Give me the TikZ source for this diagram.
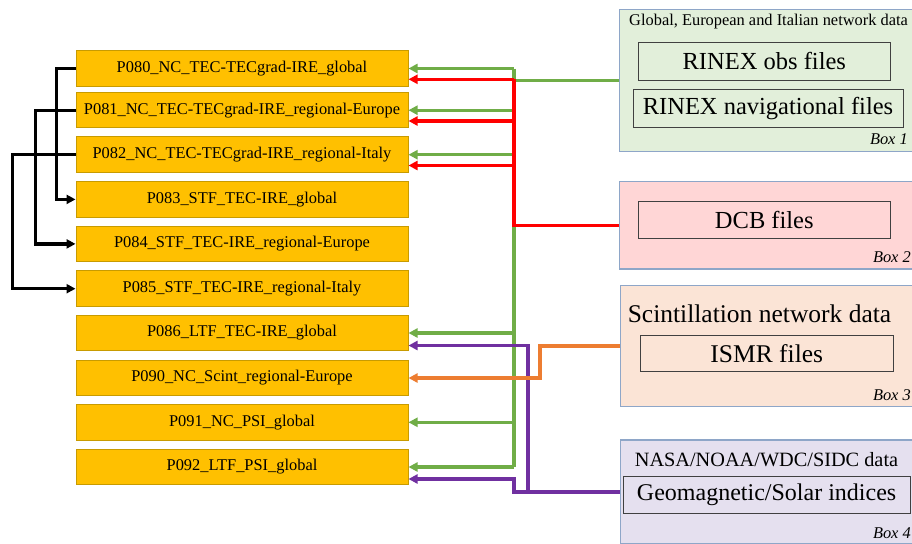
\documentclass[tikz,border=0pt]{standalone}
\usepackage{fontspec}
\setmainfont{Liberation Serif}
\usetikzlibrary{arrows.meta}
\definecolor{pfill}{HTML}{FFC000}
\definecolor{pdraw}{HTML}{C89B00}
\definecolor{bdraw}{HTML}{8EA6C8}
\definecolor{fone}{HTML}{E2EFDA}
\definecolor{ftwo}{HTML}{FFD6D6}
\definecolor{fthree}{HTML}{FBE4D6}
\definecolor{ffour}{HTML}{E5E0EF}
\definecolor{cgreen}{HTML}{70AD47}
\definecolor{cred}{HTML}{FF0000}
\definecolor{cpurple}{HTML}{7030A0}
\definecolor{corange}{HTML}{ED7D31}
\begin{document}
\begin{tikzpicture}[x=1pt,y=-1pt,
  pbox/.style={draw=pdraw,line width=1pt,fill=pfill,minimum width=332pt,minimum height=35.5pt,inner sep=0pt,font=\fontsize{16.4}{18}\selectfont},
  rbox/.style={draw=bdraw,line width=1.4pt,minimum width=330pt,anchor=north west,inner sep=0pt},
  ibox/.style={draw=black!75,line width=0.9pt,inner sep=0pt},
  big/.style={font=\fontsize{24.5}{26}\selectfont},
  small/.style={inner sep=0pt,font=\fontsize{16.4}{18}\selectfont},
  boxlab/.style={inner sep=0pt,anchor=east,font=\fontsize{16.4}{18}\selectfont\itshape},
  conn/.style={line width=3.3pt},
  tip/.style={-{Triangle[length=9pt,width=9pt]}},
  gline/.style={conn,draw=cgreen},
  rline/.style={conn,draw=cred},
  uline/.style={conn,draw=cpurple},
  oline/.style={conn,draw=corange},
  bline/.style={conn,draw=black}]
\useasboundingbox (0,0) rectangle (912,543);
\fill[white] (0,0) rectangle (912,543);
\clip (0,0) rectangle (912,543);

% right-hand source boxes
\node[rbox,fill=fone,minimum height=141.7pt] (b1) at (619,9) {};
\node[small,anchor=west] (t1) at (629,21.7) {Global, European and Italian network data};
\node[ibox,big,minimum width=252.7pt,minimum height=37.3pt] (obs) at (764.3,61.3) {RINEX obs files};
\node[ibox,big,minimum width=270pt,minimum height=38.3pt] (nav) at (768,108.2) {RINEX navigational files};
\node[boxlab] (l1) at (908,139) {Box 1};

\node[rbox,fill=ftwo,minimum height=87.6pt] (b2) at (619,180.7) {};
\node[ibox,big,minimum width=252.7pt,minimum height=37.7pt] (dcb) at (764.3,219.8) {DCB files};
\node[boxlab] (l2) at (911,256.7) {Box 2};

\node[rbox,fill=fthree,minimum height=120.7pt] (b3) at (620,285) {};
\node[inner sep=0pt,font=\fontsize{25.5}{27}\selectfont] (t3) at (759.5,313.3) {Scintillation network data};
\node[ibox,font=\fontsize{25.5}{27}\selectfont,minimum width=252.3pt,minimum height=36.4pt] (ismr) at (766.8,353.5) {ISMR files};
\node[boxlab] (l3) at (911,395) {Box 3};

\node[rbox,fill=ffour,minimum height=104pt] (b4) at (620,439.3) {};
\node[inner sep=0pt,font=\fontsize{20.3}{22}\selectfont] (t4) at (766.5,460) {NASA/NOAA/WDC/SIDC data};
\node[ibox,font=\fontsize{24}{26}\selectfont,minimum width=286.7pt,minimum height=36.6pt] (geo) at (766.6,495) {Geomagnetic/Solar indices};
\node[boxlab] (l4) at (911,533.5) {Box 4};

% product boxes
\node[pbox] (p80) at (242,68.5) {P080\_NC\_TEC-TECgrad-IRE\_global};
\node[pbox] (p81) at (242,110.2) {P081\_NC\_TEC-TECgrad-IRE\_regional-Europe};
\node[pbox] (p82) at (242,154.7) {P082\_NC\_TEC-TECgrad-IRE\_regional-Italy};
\node[pbox] (p83) at (242,199.4) {P083\_STF\_TEC-IRE\_global};
\node[pbox] (p84) at (242,243.9) {P084\_STF\_TEC-IRE\_regional-Europe};
\node[pbox] (p85) at (242,288.7) {P085\_STF\_TEC-IRE\_regional-Italy};
\node[pbox] (p86) at (242,333) {P086\_LTF\_TEC-IRE\_global};
\node[pbox] (p90) at (242,378) {P090\_NC\_Scint\_regional-Europe};
\node[pbox] (p91) at (242,422.3) {P091\_NC\_PSI\_global};
\node[pbox] (p92) at (242,467) {P092\_LTF\_PSI\_global};

% trunk coordinates
\coordinate (gx) at (514,0);
\coordinate (px) at (528,0);
\coordinate (ox) at (540,0);
\foreach \n in {p80,p81,p82} \coordinate (r\n) at ([yshift=-10.8pt]\n.east);
\coordinate (u86) at ([yshift=-12.5pt]p86.east);
\coordinate (u92) at ([yshift=-12pt]p92.east);

% green
\draw[gline] (b1.west) -- (gx |- b1.west);
\draw[gline] (gx |- p80.east) -- (gx |- p92.east);
\foreach \n in {p80,p81,p82,p86,p91,p92} \draw[gline,tip] (gx |- \n.east) -- (\n.east);

% red
\draw[rline] (b2.west) -- (gx |- b2.west) -- (gx |- rp80);
\foreach \n in {p80,p81,p82} \draw[rline,tip] (gx |- r\n) -- (r\n);

% purple
\draw[uline,tip] (b4.west) -- (gx |- b4.west) -- (gx |- u92) -- (u92);
\draw[uline,tip] (px |- b4.west) -- (px |- u86) -- (u86);

% orange
\draw[oline,tip] (b3.west) -| (ox |- p90.east) -- (p90.east);

% black
\draw[bline,tip] (p80.west) -- ++(-19,0) |- (p83.west);
\draw[bline,tip] (p81.west) -- ++(-40,0) |- (p84.west);
\draw[bline,tip] (p82.west) -- ++(-63,0) |- (p85.west);
\end{tikzpicture}
\end{document}
